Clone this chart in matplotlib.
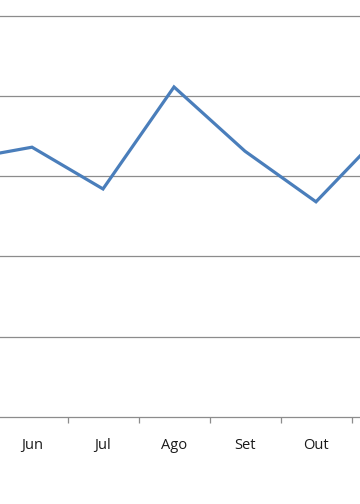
import matplotlib
matplotlib.use("Agg")
import matplotlib.pyplot as plt
import numpy as np

# monthly series (Portuguese month abbreviations); chart is cropped at both sides
months = ["Mai", "Jun", "Jul", "Ago", "Set", "Out", "Nov"]
values = [3.20, 3.36, 2.84, 4.11, 3.31, 2.68, 3.60]
grid_values = [1, 2, 3, 4, 5]

fig = plt.figure(figsize=(3.6, 5.04), dpi=100)
ax = fig.add_axes([0, 87 / 504, 1, 417 / 504])

x = np.arange(len(months))
ax.plot(x, values, color="#4A7EBB", lw=2.3, solid_joinstyle="miter", zorder=3)

for g in grid_values:
    ax.axhline(g, color="#8C8C8C", lw=0.9, zorder=1)

for s in ["top", "left", "right"]:
    ax.spines[s].set_visible(False)
ax.spines["bottom"].set_color("#8C8C8C")
ax.spines["bottom"].set_linewidth(0.9)

ax.set_yticks([])
# only the months inside the visible window get a label
ax.set_xticks(x[1:-1])
ax.set_xticklabels(months[1:-1], fontsize=10.5, family="Open Sans", color="#1a1a1a")
ax.set_xticks(x[:-1] + 0.5, minor=True)
ax.tick_params(axis="x", which="major", length=0, pad=15)
ax.tick_params(axis="x", which="minor", length=4, width=0.9, color="#8C8C8C",
               direction="out")

# limits last, set_xticks would widen them otherwise
ax.set_xlim(1 - 32 / 71, 1 + 328 / 71)
ax.set_ylim(0, 417 / 80.3)

fig.savefig("out.png", dpi=100)
